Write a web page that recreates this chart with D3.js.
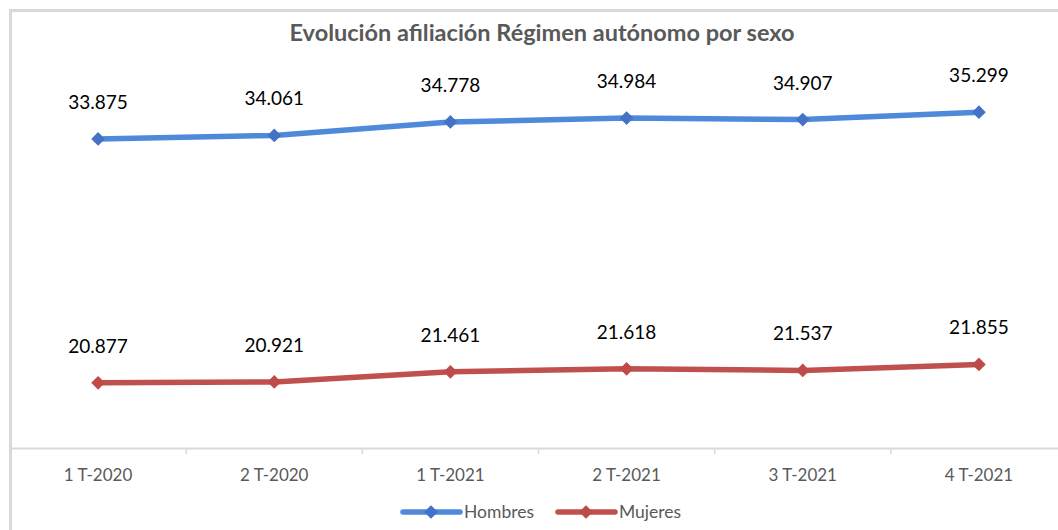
<!DOCTYPE html>
<html>
<head>
<meta charset="utf-8">
<script src="https://cdn.jsdelivr.net/npm/d3@7"></script>
<style>
  body { margin: 0; background: #fff; }
  svg { display: block; }
</style>
</head>
<body>
<svg id="chart" width="1058" height="530"></svg>
<script>
// datos
const categories = ["1 T-2020", "2 T-2020", "1 T-2021", "2 T-2021", "3 T-2021", "4 T-2021"];
const hombres = [33875, 34061, 34778, 34984, 34907, 35299];
const mujeres = [20877, 20921, 21461, 21618, 21537, 21855];
const seriesNames = ["Hombres", "Mujeres"];

const svg = d3.select("#chart");
const FONT = "Lato, 'Open Sans', sans-serif";

const fmt = v => d3.format(",")(v).replace(/,/g, ".");

// marco del gráfico (recortado a derecha y abajo)
svg.append("path")
    .attr("d", "M10.5,530 V10.5 H1058")
    .attr("fill", "none")
    .attr("stroke", "#d9d9d9")
    .attr("stroke-width", 3);

svg.append("text")
    .attr("x", 542).attr("y", 41)
    .attr("text-anchor", "middle")
    .attr("font-family", FONT)
    .attr("font-weight", "bold")
    .attr("font-size", 23.5)
    .attr("fill", "#595959")
    .text("Evolución afiliación Régimen autónomo por sexo");

const x = d3.scaleBand().domain(categories).range([10, 1067]);
const y = d3.scaleLinear().domain([17400, 40000]).range([448, 24]);

// eje x
const xAxis = d3.axisBottom(x).tickSize(0).tickSizeOuter(0);
const gx = svg.append("g").attr("transform", "translate(0,448)").call(xAxis);
gx.select(".domain").attr("stroke", "#d9d9d9").attr("stroke-width", 2);
gx.selectAll("text")
    .attr("font-family", FONT)
    .attr("font-size", 17)
    .attr("fill", "#595959")
    .attr("y", 27)
    .attr("dy", "0.35em");

// marcas entre categorías
svg.append("g").selectAll("line")
    .data(categories.slice(1))
    .join("line")
    .attr("x1", d => x(d)).attr("x2", d => x(d))
    .attr("y1", 448).attr("y2", 454)
    .attr("stroke", "#d9d9d9").attr("stroke-width", 1.5);

const series = [
  {name: seriesNames[0], values: hombres, color: "#4f89d9", marker: "#4472c4"},
  {name: seriesNames[1], values: mujeres, color: "#c0504d", marker: "#be4b48"}
];

const line = d3.line()
    .x((d, i) => x(categories[i]) + x.bandwidth() / 2)
    .y(d => y(d));

const diamond = d3.symbol().type(d3.symbolDiamond2).size(120);

series.forEach(s => {
  const g = svg.append("g");
  g.append("path")
      .datum(s.values)
      .attr("d", line)
      .attr("fill", "none")
      .attr("stroke", s.color)
      .attr("stroke-width", 5.5)
      .attr("stroke-linejoin", "round");
  g.selectAll("path.mk")
      .data(s.values)
      .join("path")
      .attr("class", "mk")
      .attr("d", diamond)
      .attr("transform", (d, i) => `translate(${x(categories[i]) + x.bandwidth() / 2},${y(d)})`)
      .attr("fill", s.marker);
  g.selectAll("text")
      .data(s.values)
      .join("text")
      .attr("x", (d, i) => x(categories[i]) + x.bandwidth() / 2)
      .attr("y", d => y(d) - 30)
      .attr("text-anchor", "middle")
      .attr("font-family", FONT)
      .attr("font-size", 19)
      .attr("fill", "#000")
      .text(fmt);
});

// leyenda
const legendX = [403, 558];
series.forEach((s, i) => {
  const g = svg.append("g").attr("transform", `translate(${legendX[i]},512)`);
  g.append("line")
      .attr("x1", 0).attr("x2", 57)
      .attr("stroke", s.color).attr("stroke-width", 5.5)
      .attr("stroke-linecap", "round");
  g.append("path").attr("d", diamond).attr("transform", "translate(28,0)").attr("fill", s.marker);
  g.append("text")
      .attr("x", 61).attr("y", 0).attr("dy", "0.35em")
      .attr("font-family", FONT)
      .attr("font-size", 17.5)
      .attr("fill", "#595959")
      .text(s.name);
});
</script>
</body>
</html>
